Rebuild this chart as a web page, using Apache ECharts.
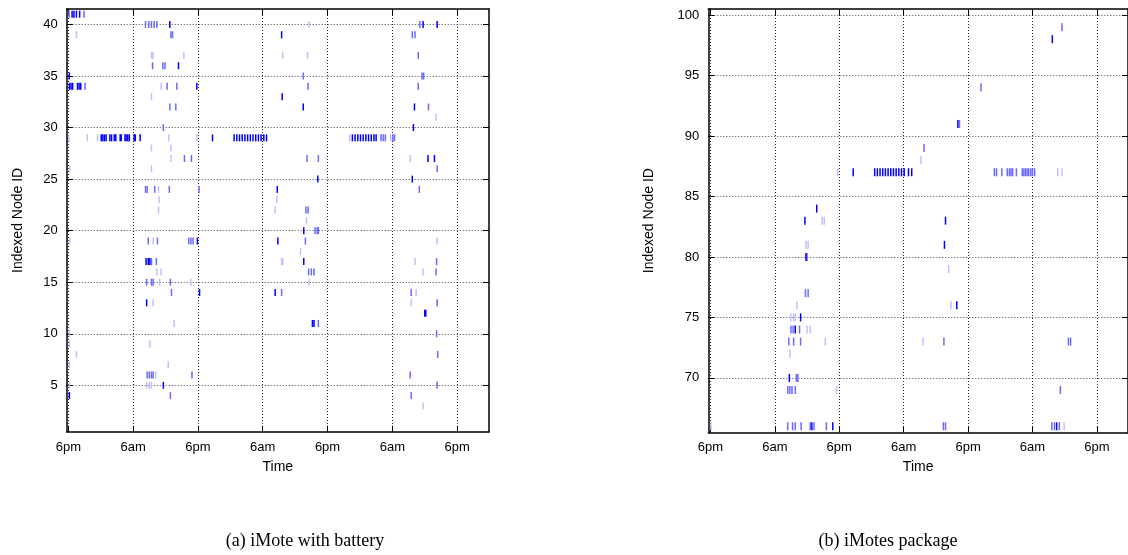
<!DOCTYPE html>
<html><head><meta charset="utf-8">
<script src="https://cdn.jsdelivr.net/npm/echarts@6/dist/echarts.min.js"></script>
<style>html,body{margin:0;padding:0;background:#fff}#c{width:1128px;height:555px}</style>
</head><body><div id="c"></div><script>
// ---- data (x = hours since first 6pm, y = indexed node id) ----
const timeTicks = [0, 12, 24, 36, 48, 60, 72];
const timeLabels = ['6pm', '6am', '6pm', '6am', '6pm', '6am', '6pm'];
const aTicks = [5, 10, 15, 20, 25, 30, 35, 40];
const bTicks = [70, 75, 80, 85, 90, 95, 100];
const captions = ['(a) iMote with battery', '(b) iMotes package'];

const aDark = [
 [0.7,41],[1.05,41],[1.5,41],[2.1,41],
 [18.8,40],[65.7,40],[68.3,40],
 [39.5,39],[20.4,36],[0.2,35],
 [0.2,34],[0.5,34],[0.8,34],[1.7,34],[2.0,34],[2.3,34],[23.8,34],
 [39.6,33],[43.5,32],[64.1,32],[63.9,30],
 [6.1,29],[6.4,29],[6.7,29],[7.0,29],[7.7,29],[8.0,29],[8.5,29],[8.8,29],[9.6,29],[9.8,29],
 [10.5,29],[10.7,29],[11.0,29],[11.3,29],[12.2,29],[12.4,29],[13.3,29],[26.7,29],
 [30.7,29],[31.2,29],[31.7,29],[32.2,29],[32.7,29],[33.2,29],[33.7,29],[34.2,29],[34.7,29],
 [35.2,29],[35.7,29],[36.2,29],[36.7,29],
 [52.6,29],[53.1,29],[53.6,29],[54.1,29],[54.6,29],[55.1,29],[55.6,29],[56.1,29],[56.6,29],[57.0,29],
 [66.6,27],[67.8,27],[46.2,25],[63.7,25],[38.7,24],[43.6,20],[23.9,19],[38.8,19],
 [14.4,17],[14.8,17],[15.1,17],[43.6,17],[24.3,14],[38.3,14],[14.5,13],
 [66.0,12],[66.2,12],[45.2,11],[45.5,11],[17.6,5],[0.2,4]
];
const aMid = [
 [0.13,41],[2.9,41],
 [14.3,40],[14.9,40],[15.4,40],[15.9,40],[16.4,40],[65.1,40],
 [19.0,39],[19.3,39],[63.7,39],[64.2,39],[64.8,37],
 [15.6,36],[17.5,36],[17.9,36],[43.5,35],[65.5,35],[65.8,35],
 [3.1,34],[18.3,34],[20.1,34],[44.4,34],[64.8,34],
 [18.8,32],[19.9,32],[66.7,32],[17.6,30],
 [57.9,29],[58.3,29],[58.7,29],[60.1,29],[60.4,29],
 [21.5,27],[22.8,27],[44.2,27],[46.3,27],[68.3,26],
 [14.3,24],[14.6,24],[16.0,24],[18.7,24],[24.2,24],[65.0,24],
 [44.0,22],[44.4,22],[45.7,20],[46.1,20],[46.3,20],
 [14.8,19],[16.5,19],[22.3,19],[22.7,19],[23.1,19],[43.9,19],
 [15.4,17],[16.3,17],[68.2,17],[44.5,16],[45.0,16],[45.5,16],[68.1,16],
 [14.5,15],[15.4,15],[15.7,15],[18.9,15],[19.1,14],[39.5,14],[63.5,14],
 [68.3,13],[46.3,11],[68.2,10],[68.4,8],
 [14.6,6],[15.0,6],[15.4,6],[15.7,6],[22.9,6],[63.3,6],[68.3,5],[18.9,4],[63.5,4]
];
const aFaint = [
 [1.5,39],[44.6,40],[15.4,37],[15.7,37],[21.4,37],[39.7,37],[44.3,37],
 [17.2,34],[15.4,33],[68.1,31],
 [0.1,29],[3.5,29],[5.4,29],[18.6,29],[23.8,29],[52.1,29],[59.7,29],
 [15.4,28],[19.0,28],[19.0,27],[63.3,27],[0.25,26],[15.4,26],[16.7,24],
 [16.8,23],[38.6,23],[16.7,22],[38.3,22],[44.1,21],
 [0.25,19],[15.7,19],[68.3,19],[43.0,18],[39.5,17],[39.7,17],[64.2,17],
 [16.4,16],[17.2,16],[65.7,16],[16.9,15],[22.7,15],[44.6,15],[64.4,14],
 [15.7,13],[63.5,13],[19.6,11],[0.2,10],[0.2,9],[15.1,9],[1.5,8],[0.2,7],[18.5,7],
 [16.2,6],[0.2,5],[14.5,5],[15.0,5],[15.4,5],[65.7,3]
];

const bDark = [
 [63.7,98],[46.1,91],[26.6,87],
 [30.6,87],[31.1,87],[31.6,87],[32.1,87],[32.6,87],[33.1,87],[33.6,87],[34.1,87],[34.6,87],
 [35.1,87],[35.6,87],[36.1,87],[36.9,87],[37.5,87],
 [19.8,84],[17.6,83],[43.8,83],[43.6,81],[17.8,80],[45.9,76],[16.8,75],[15.8,74],
 [14.7,70],[18.9,66],[22.8,66],[64.5,66]
];
const bMid = [
 [65.5,99],[50.4,94],[46.4,91],[39.8,89],
 [52.9,87],[53.3,87],[54.3,87],[55.3,87],[55.7,87],[56.0,87],[56.3,87],[57.0,87],[58.1,87],
 [58.4,87],[58.7,87],[59.0,87],[59.3,87],[59.7,87],[60.0,87],[60.4,87],
 [18.0,80],[17.7,77],[18.2,77],[15.0,74],[15.4,74],[16.6,74],
 [14.6,73],[15.5,73],[16.8,73],[43.5,73],[66.7,73],[67.1,73],[16.0,70],[16.3,70],
 [14.4,69],[14.8,69],[15.2,69],[15.8,69],[65.2,69],
 [14.4,66],[15.3,66],[15.8,66],[16.9,66],[18.6,66],[19.3,66],[21.6,66],[43.4,66],[43.8,66],
 [63.6,66],[64.1,66],[65.0,66]
];
const bFaint = [
 [39.2,88],[23.7,87],[64.7,87],[65.5,87],[20.8,83],[21.2,83],[17.8,81],[18.2,81],
 [44.4,79],[16.1,76],[44.8,76],[15.0,75],[15.5,75],[15.8,75],[18.0,74],[18.6,74],
 [21.4,73],[39.6,73],[14.8,72],[23.5,69],[0.1,66],[65.9,66]
];

// ---- chart ----
const FONT = 'Liberation Sans';
const chart = echarts.init(document.getElementById('c'), null, {renderer: 'canvas'});
const tickLabel = v => { const i = timeTicks.findIndex(t => Math.abs(t - v) < 1e-6); return i >= 0 ? timeLabels[i] : ''; };
const dotted = {color: '#222', type: [1, 2], width: 1};

function xAxes(gi, min, max) {
  return [{
    type: 'value', gridIndex: gi, min, max, position: 'bottom',
    name: 'Time', nameLocation: 'middle', nameGap: 28,
    nameTextStyle: {fontFamily: FONT, fontSize: 14, color: '#000'},
    axisLine: {onZero: false, lineStyle: {color: '#000', width: 1.5}},
    axisTick: {inside: true, length: 6, customValues: timeTicks, lineStyle: {color: '#000'}},
    axisLabel: {customValues: timeTicks, formatter: tickLabel, fontFamily: FONT, fontSize: 13, color: '#000', margin: 9},
    splitLine: {show: true, lineStyle: dotted}
  }, {
    type: 'value', gridIndex: gi, min, max, position: 'top',
    axisLine: {onZero: false, lineStyle: {color: '#000', width: 1.5}},
    axisTick: {inside: true, length: 6, customValues: timeTicks, lineStyle: {color: '#000'}},
    axisLabel: {show: false}, splitLine: {show: false}
  }];
}
function yAxes(gi, min, max, ticks, gap) {
  return [{
    type: 'value', gridIndex: gi, min, max, position: 'left',
    name: 'Indexed Node ID', nameLocation: 'middle', nameGap: gap,
    nameTextStyle: {fontFamily: FONT, fontSize: 14, color: '#000'},
    axisLine: {onZero: false, lineStyle: {color: '#000', width: 1.5}},
    axisTick: {inside: true, length: 6, customValues: ticks, lineStyle: {color: '#000'}},
    axisLabel: {customValues: ticks, fontFamily: FONT, fontSize: 13, color: '#000', margin: 9},
    splitLine: {show: true, lineStyle: {color: '#444', type: [1, 2], width: 1}}
  }, {
    type: 'value', gridIndex: gi, min, max, position: 'right',
    axisLine: {onZero: false, lineStyle: {color: '#000', width: 1.5}},
    axisTick: {inside: true, length: 6, customValues: ticks, lineStyle: {color: '#000'}},
    axisLabel: {show: false}, splitLine: {show: false}
  }];
}
function sc(data, xi, yi, color, h) {
  return {type: 'scatter', xAxisIndex: xi, yAxisIndex: yi, data, symbol: 'rect',
    symbolSize: [1.5, h], itemStyle: {color, opacity: 1}, silent: true, clip: true};
}
const DARK = '#0000ff', MID = '#6a6aff', FAINT = '#c0c0ff';

chart.setOption({
  animation: false,
  backgroundColor: '#fff',
  grid: [
    {left: 66.7, top: 9, width: 422.3, height: 422.7},
    {left: 708.3, top: 9, width: 422.3, height: 423.3}
  ],
  xAxis: [...xAxes(0, -0.3, 77.9), ...xAxes(1, -0.4, 77.8)],
  yAxis: [...yAxes(0, 0.5, 41.5, aTicks, 42), ...yAxes(1, 65.5, 100.5, bTicks, 52)],
  series: [
    sc(aFaint, 0, 0, FAINT, 7), sc(aMid, 0, 0, MID, 7), sc(aDark, 0, 0, DARK, 7),
    sc(bFaint, 2, 2, FAINT, 8), sc(bMid, 2, 2, MID, 8), sc(bDark, 2, 2, DARK, 8)
  ],
  graphic: [
    {type: 'text', x: 305, y: 541, style: {text: captions[0], font: '18px "Liberation Serif"', align: 'center', verticalAlign: 'middle', fill: '#000'}},
    {type: 'text', x: 888, y: 541, style: {text: captions[1], font: '18px "Liberation Serif"', align: 'center', verticalAlign: 'middle', fill: '#000'}}
  ]
});
</script></body></html>
